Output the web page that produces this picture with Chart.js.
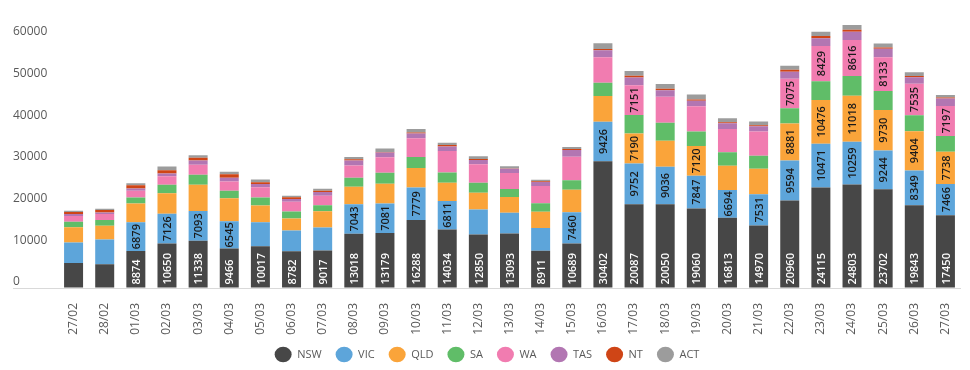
<!DOCTYPE html>
<html>
<head>
<meta charset="utf-8">
<script src="https://cdn.jsdelivr.net/npm/chart.js@4"></script>
<style>
  html, body { margin:0; padding:0; background:#fff; }
  #wrap { width:970px; height:370px; position:relative; }
</style>
</head>
<body>
<div id="wrap"><canvas id="c"></canvas></div>
<script>
const DATES = ['27/02','28/02','01/03','02/03','03/03','04/03','05/03','06/03','07/03','08/03','09/03','10/03','11/03','12/03','13/03','14/03','15/03','16/03','17/03','18/03','19/03','20/03','21/03','22/03','23/03','24/03','25/03','26/03','27/03']

const NSW = [5990,5670,8874,10650,11338,9466,10017,8782,9017,13018,13179,16288,14034,12850,13093,8911,10689,30402,20087,20050,19060,16813,14970,20960,24115,24803,23702,19843,17450]
const VIC = [4920,5950,6879,7126,7093,6545,5720,5000,5480,7043,7081,7779,6811,5950,4920,5480,7460,9426,9752,9036,7847,6694,7531,9594,10471,10259,9244,8349,7466]
const QLD = [3650,3330,4530,4920,6350,5480,4050,2860,3890,4210,4760,4690,4370,4050,3810,3890,5400,6190,7190,6190,7120,5800,6110,8881,10476,11018,9730,9404,7738]
const SA  = [1350,1350,1430,2060,2380,1830,1910,1670,1430,2140,2620,2620,2460,2380,1910,2060,2300,3180,4450,4370,3490,3260,3100,3650,4530,4760,4530,3810,3810]
const WA  = [1350,1430,1590,2060,2380,2220,2460,2380,2300,2940,3730,4530,5160,4450,3810,4130,5640,6110,7151,6190,6030,5560,5800,7075,8429,8616,8133,7535,7197]
const TAS = [480,400,560,640,1030,870,790,640,870,1190,1110,1110,1110,1030,1030,950,1590,1670,1830,1590,1350,1350,1270,1670,1830,1990,1990,1590,1750]
const NT  = [480,560,790,790,640,870,400,400,320,320,100,240,320,240,80,160,240,320,400,320,320,240,240,480,560,480,320,320,240]
const ACT = [320,320,480,870,640,560,640,400,480,560,870,870,560,640,560,400,480,1350,1190,1190,1190,950,870,950,1030,1110,950,870,640]

const Y_TICKS = [0,10000,20000,30000,40000,50000,60000]
const LABEL_MIN = 6500

const FONT = '"Open Sans", "DejaVu Sans", sans-serif'
const tc = '#595959'

const series = [
  ['NSW', NSW, '#474747'],
  ['VIC', VIC, '#5da5da'],
  ['QLD', QLD, '#faa43a'],
  ['SA',  SA,  '#60bd68'],
  ['WA',  WA,  '#f17cb0'],
  ['TAS', TAS, '#b276b2'],
  ['NT',  NT,  '#cf4516'],
  ['ACT', ACT, '#9c9c9c'],
]

// value labels, rotated, like the spreadsheet original
const barLabels = {
  id:'barLabels',
  afterDatasetsDraw(chart) {
    const ctx = chart.ctx
    ctx.save()
    ctx.font = '600 11px ' + FONT
    chart.data.datasets.forEach((ds, di) => {
      const meta = chart.getDatasetMeta(di)
      meta.data.forEach((bar, i) => {
        const v = ds.data[i]
        if (v < LABEL_MIN) return
        const {x, y, base} = bar.getProps(['x','y','base'], true)
        ctx.save()
        ctx.textBaseline = 'middle'
        if (di === 0) {
          ctx.fillStyle = '#fff'
          ctx.translate(x, base - 3)
          ctx.rotate(-Math.PI/2)
          ctx.textAlign = 'left'
        } else {
          ctx.fillStyle = '#1a1a1a'
          ctx.translate(x, (y + base)/2)
          ctx.rotate(-Math.PI/2)
          ctx.textAlign = 'center'
        }
        ctx.fillText(String(v), 0, 1)
        ctx.restore()
      })
    })
    ctx.restore()
  }
}

new Chart(document.getElementById('c'), {
  type:'bar',
  data:{
    labels:DATES,
    datasets:series.map(([label, data, color]) => ({
      label, data, backgroundColor:color, borderWidth:0,
      barPercentage:0.61, categoryPercentage:1
    }))
  },
  options:{
    responsive:true, maintainAspectRatio:false, animation:false,
    layout:{ padding:{ left:13, right:9, top:0, bottom:0 } },
    plugins:{
      legend:{
        position:'bottom',
        labels:{
          usePointStyle:true, pointStyle:'circle', pointStyleWidth:17,
          padding:14, color:tc, font:{ family:FONT, size:11 }
        }
      },
      tooltip:{ enabled:false }
    },
    scales:{
      x:{
        stacked:true,
        grid:{ display:false }, border:{ display:false },
        ticks:{ color:tc, font:{ family:FONT, size:12 }, minRotation:90, maxRotation:90, autoSkip:false, padding:7 },
        afterFit:s => { s.height = 47 }
      },
      y:{
        stacked:true, min:0, max:66600,
        border:{ display:false },
        grid:{ color:c => c.tick && c.tick.value === 0 ? '#d9d9d9' : 'rgba(0,0,0,0)', drawTicks:true, tickLength:45 },
        ticks:{ color:tc, font:{ family:FONT, size:12 }, stepSize:10000, labelOffset:-6, crossAlign:'far', callback:v => String(v) },
        afterBuildTicks:s => { s.ticks = Y_TICKS.map(v => ({ value:v })) },
        afterFit:s => { s.width = 45 }
      }
    }
  },
  plugins:[barLabels]
})
</script>
</body>
</html>
